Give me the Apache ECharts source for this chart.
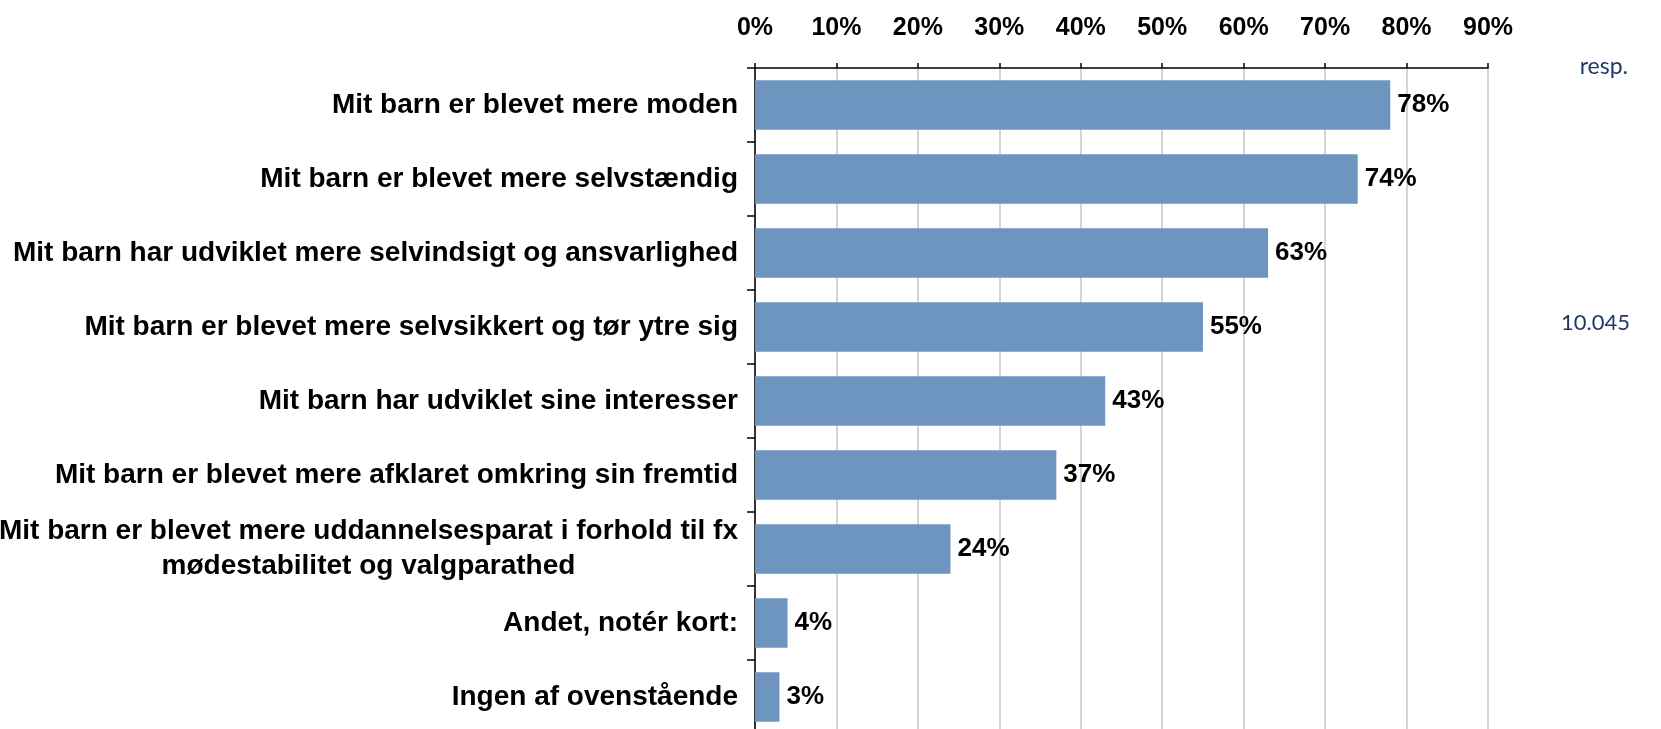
<!DOCTYPE html>
<html>
<head>
<meta charset="utf-8">
<title>chart</title>
<script src="https://cdn.jsdelivr.net/npm/echarts@6/dist/echarts.min.js"></script>
<style>
  html, body { margin: 0; padding: 0; background: #fff; }
  #chart { width: 1661px; height: 729px; }
</style>
</head>
<body>
<div id="chart"></div>
<script>
// data
const categories = [
  "Mit barn er blevet mere moden",
  "Mit barn er blevet mere selvstændig",
  "Mit barn har udviklet mere selvindsigt og ansvarlighed",
  "Mit barn er blevet mere selvsikkert og tør ytre sig",
  "Mit barn har udviklet sine interesser",
  "Mit barn er blevet mere afklaret omkring sin fremtid",
  "Mit barn er blevet mere uddannelsesparat i forhold til fx\nmødestabilitet og valgparathed",
  "Andet, notér kort:",
  "Ingen af ovenstående"
];
const shares = [78, 74, 63, 55, 43, 37, 24, 4, 3];
const xTicks = [0, 10, 20, 30, 40, 50, 60, 70, 80, 90];
const respLabel = "resp.";
const respCount = "10.045";

const FONT = "'Liberation Sans', Arial, sans-serif";

const chart = echarts.init(document.getElementById("chart"));

const option = {
  animation: false,
  backgroundColor: "#ffffff",
  grid: {
    left: 755,
    top: 68,
    width: 733,
    height: 666,
    outerBoundsMode: "none",
    containLabel: false
  },
  xAxis: {
    type: "value",
    position: "top",
    min: xTicks[0],
    max: xTicks[xTicks.length - 1],
    interval: 10,
    axisLine: { show: true, lineStyle: { color: "#000", width: 1.5 } },
    axisTick: { show: true, length: 5, lineStyle: { color: "#000", width: 1.5 } },
    splitLine: { show: true, lineStyle: { color: "#c6c6c6", width: 1.5 } },
    axisLabel: {
      formatter: "{value}%",
      margin: 27,
      color: "#000",
      fontFamily: FONT,
      fontWeight: "bold",
      fontSize: 25
    }
  },
  yAxis: {
    type: "category",
    inverse: true,
    data: categories,
    axisLine: { show: true, lineStyle: { color: "#000", width: 1.5 } },
    axisTick: { show: true, length: 8, lineStyle: { color: "#000", width: 1.5 } },
    axisLabel: {
      margin: 17,
      color: "#000",
      fontFamily: FONT,
      fontWeight: "bold",
      fontSize: 28,
      lineHeight: 35,
      formatter: function (v) {
        if (v.indexOf("\n") < 0) return v;
        // two line label: centre the lines against each other
        return v.split("\n").map(function (s) { return "{c|" + s + "}"; }).join("\n");
      },
      rich: {
        c: {
          align: "center",
          color: "#000",
          fontFamily: FONT,
          fontWeight: "bold",
          fontSize: 28,
          lineHeight: 35
        }
      }
    }
  },
  series: [
    {
      type: "bar",
      data: shares,
      barCategoryGap: "33%",
      itemStyle: { color: "#6d95c0" },
      label: {
        show: true,
        position: "right",
        distance: 7,
        formatter: "{c}%",
        color: "#000",
        fontFamily: FONT,
        fontWeight: "bold",
        fontSize: 26
      }
    }
  ],
  graphic: [
    {
      type: "text",
      right: 33,
      top: 55,
      style: {
        text: respLabel,
        fill: "#1f3a66",
        font: "23px Lato, 'Open Sans', sans-serif"
      }
    },
    {
      type: "text",
      right: 31,
      top: 312,
      style: {
        text: respCount,
        fill: "#1f3a66",
        font: "22px Lato, 'Open Sans', sans-serif"
      }
    }
  ]
};

chart.setOption(option);
window.addEventListener("resize", function () {
  chart.resize();
});
</script>
</body>
</html>
